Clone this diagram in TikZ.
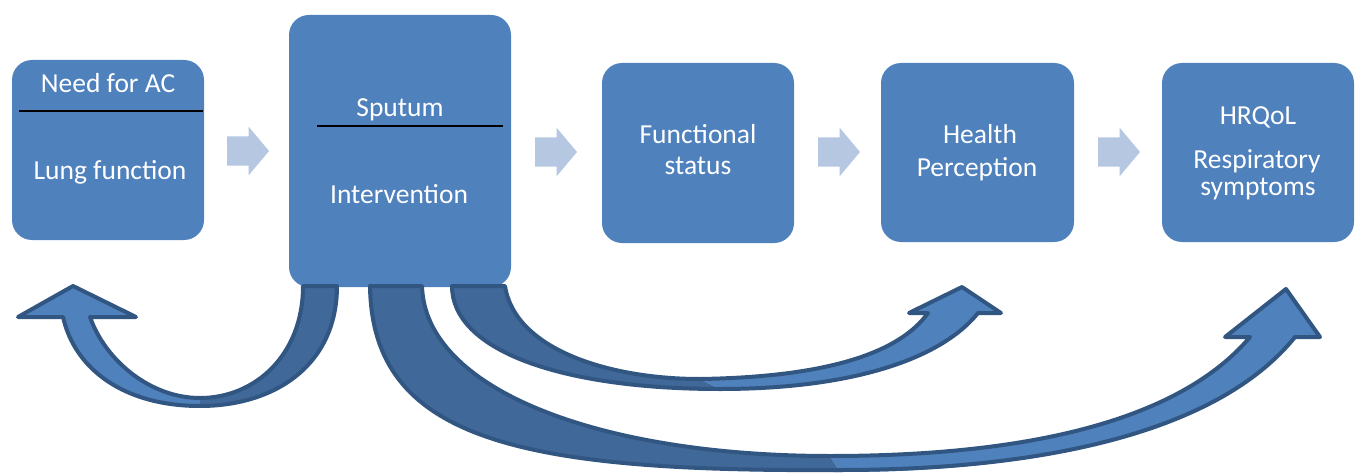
\documentclass[tikz,border=0pt]{standalone}
\usepackage{fontspec}
\setmainfont{Carlito}
\usetikzlibrary{shapes.arrows}
\definecolor{boxblue}{RGB}{79,129,189}
\definecolor{chevblue}{RGB}{182,199,226}
\definecolor{backblue}{RGB}{64,104,153}
\definecolor{edgeblue}{RGB}{50,86,130}
\begin{document}
\begin{tikzpicture}[x=1pt,y=-1pt,
  box/.style={fill=boxblue, draw=none, rounded corners=20pt, inner sep=0pt},
  txt/.style={text=white, inner sep=0pt, anchor=base, font=\fontsize{27.5}{31}\selectfont},
  divider/.style={black, line width=2pt},
  chev/.style={single arrow, fill=chevblue, draw=none, inner sep=14.5pt, outer sep=0pt,
    minimum height=42pt, minimum width=48pt, single arrow tip angle=100,
    single arrow head extend=9.5pt, anchor=tail},
  backface/.style={fill=backblue, draw=none},
  frontface/.style={fill=boxblue, draw=none},
  rim/.style={draw=edgeblue, line width=4pt, line join=round}]
\useasboundingbox (0,0) rectangle (1356,473);

% boxes
\node[box, minimum width=192pt, minimum height=180pt] (b1) at (108,150) {};
\node[box, minimum width=222pt, minimum height=272pt] (b2) at (400,151) {};
\node[box, minimum width=192pt, minimum height=180pt] (b3) at (698,153) {};
\node[box, minimum width=193pt, minimum height=179pt] (b4) at (977.5,152.5) {};
\node[box, minimum width=192pt, minimum height=179pt] (b5) at (1258,152.5) {};

% texts
\node[txt] (t1a) at (108,93) {Need for AC};
\node[txt] (t1b) at (110,179) {Lung function};
\node[txt] (t2a) at (400,117) {Sputum};
\node[txt] (t2b) at (399,203) {Intervention};
\node[txt] (t3a) at (698,144) {Functional};
\node[txt] (t3b) at (698,175) {status};
\node[txt] (t4a) at (980,144) {Health};
\node[txt] (t4b) at (977,176) {Perception};
\node[txt] (t5a) at (1258,125) {HRQoL};
\node[txt] (t5b) at (1257,168) {Respiratory};
\node[txt] (t5c) at (1258,196) {symptoms};

% dividers
\coordinate (d1l) at (19,111); \coordinate (d1r) at (203,111);
\coordinate (d2l) at (317,126); \coordinate (d2r) at (503,126);
\draw[divider] (d1l) -- (d1r);
\draw[divider] (d2l) -- (d2r);

% chevrons between boxes
\node[chev] (c1) at (227,151) {};
\node[chev] (c2) at (535,152) {};
\node[chev] (c3) at (818,152) {};
\node[chev] (c4) at (1098,152) {};

% curved arrow A: Intervention -> Lung function
\fill[backface] (303,286) -- (337,286) .. controls (337,365) and (275,406) .. (200,406)
  -- (200,398) .. controls (255,398) and (303,355) .. (303,286) -- cycle;
\fill[frontface] (200,406) .. controls (125,406) and (75,370) .. (63,317) -- (18,317) -- (73,286)
  -- (136,317) -- (90,317) .. controls (105,360) and (150,398) .. (200,398) -- cycle;
\draw[rim] (337,286) .. controls (337,365) and (275,406) .. (200,406)
  .. controls (125,406) and (75,370) .. (63,317) -- (18,317) -- (73,286) -- (136,317) -- (90,317)
  .. controls (105,360) and (150,398) .. (200,398) .. controls (255,398) and (303,355) .. (303,286) -- cycle;

% curved arrow B: Intervention -> Health Perception
\fill[backface] (452,286) .. controls (452,350) and (560,389) .. (720,389)
  -- (700,379) .. controls (610,379) and (515,350) .. (505,286) -- cycle;
\fill[frontface] (720,389) .. controls (850,389) and (940,360) .. (978,313) -- (1001,313) -- (962,287)
  -- (909,313) -- (928,313) .. controls (900,352) and (830,377) .. (700,379) -- cycle;
\draw[rim] (452,286) .. controls (452,350) and (560,389) .. (720,389)
  .. controls (850,389) and (940,360) .. (978,313) -- (1001,313) -- (962,287) -- (909,313) -- (928,313)
  .. controls (900,352) and (830,377) .. (700,379) .. controls (610,379) and (515,350) .. (505,286) -- cycle;

% curved arrow C: Intervention -> HRQoL
\fill[backface] (370,286) .. controls (372,440) and (520,472) .. (840,472)
  -- (830,456) .. controls (600,456) and (425,390) .. (422,286) -- cycle;
\fill[frontface] (840,472) .. controls (1050,472) and (1220,430) .. (1295,337) -- (1320,337) -- (1286,289)
  -- (1225,337) -- (1250,337) .. controls (1180,420) and (1030,456) .. (830,456) -- cycle;
\draw[rim] (370,286) .. controls (372,440) and (520,472) .. (840,470)
  .. controls (1050,470) and (1220,430) .. (1295,337) -- (1320,337) -- (1286,289) -- (1225,337) -- (1250,337)
  .. controls (1180,420) and (1030,456) .. (830,456) .. controls (600,456) and (425,390) .. (422,286) -- cycle;
\end{tikzpicture}
\end{document}
